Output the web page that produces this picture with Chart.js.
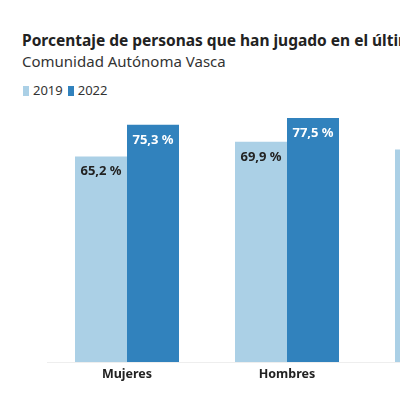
<!DOCTYPE html>
<html><head><meta charset="utf-8">
<script src="https://cdn.jsdelivr.net/npm/chart.js@4/dist/chart.umd.min.js"></script>
<style>
html,body{margin:0;padding:0;width:400px;height:400px;overflow:hidden;background:#fff;font-family:"Noto Sans",Lato,sans-serif;}
#title{position:absolute;left:22px;top:29px;font-size:15.5px;font-weight:bold;color:#222;white-space:nowrap;}
#sub{position:absolute;left:22px;top:51px;font-size:15px;color:#333;white-space:nowrap;}
#legend{position:absolute;left:23px;top:81px;font-size:13px;color:#333;white-space:nowrap;}
#legend span.sw{display:inline-block;width:6px;height:10px;vertical-align:-1px;margin-right:4px;}
#legend span.it{margin-right:5px;}
#wrap{position:absolute;left:0;top:0;width:527px;height:400px;}
</style></head><body>
<div id="title">Porcentaje de personas que han jugado en el último año</div>
<div id="sub">Comunidad Autónoma Vasca</div>
<div id="legend"></div>
<div id="wrap"><canvas id="c"></canvas></div>
<script>
const categories = ["Mujeres", "Hombres", "Total"];
const seriesNames = ["2019", "2022"];
const values2019 = [65.2, 69.9, 67.5];
const values2022 = [75.3, 77.5, 76.4];
const colors = ["#abd0e6", "#3182bd"];
const labelColors = ["#222222", "#ffffff"];

const leg = document.getElementById('legend');
seriesNames.forEach((n,i)=>{
  const s=document.createElement('span');s.className='it';
  s.innerHTML='<span class="sw" style="background:'+colors[i]+'"></span>'+n;
  leg.appendChild(s);
});

const fmt = v => v.toFixed(1).replace('.', ',') + ' %';

const labelPlugin = {
  id:'barLabels',
  afterDatasetsDraw(chart){
    const ctx=chart.ctx;
    ctx.save();
    ctx.font='bold 13px "Noto Sans", Lato, sans-serif';
    ctx.textAlign='center';ctx.textBaseline='middle';
    chart.data.datasets.forEach((ds,di)=>{
      chart.getDatasetMeta(di).data.forEach((bar,i)=>{
        ctx.fillStyle=labelColors[di];
        ctx.fillText(fmt(ds.data[i]), bar.x, bar.y+15);
      });
    });
    ctx.restore();
  }
};

new Chart(document.getElementById('c'), {
  type:'bar',
  data:{
    labels:categories,
    datasets:[
      {label:seriesNames[0], data:values2019, backgroundColor:colors[0]},
      {label:seriesNames[1], data:values2022, backgroundColor:colors[1]}
    ]
  },
  options:{
    responsive:true, maintainAspectRatio:false, animation:false,
    layout:{padding:{left:47,right:0,top:110,bottom:0}},
    datasets:{bar:{barPercentage:1, categoryPercentage:0.65}},
    plugins:{legend:{display:false}, tooltip:{enabled:false}, title:{display:false}},
    scales:{
      y:{display:false, min:0, max:80},
      x:{
        grid:{display:false, drawTicks:false},
        border:{display:true, color:'#eeeeee'},
        ticks:{color:'#222', font:{family:'"Noto Sans", Lato, sans-serif', size:12.5, weight:'bold'}, padding:5},
        afterFit(s){ s.height=38; }
      }
    }
  },
  plugins:[labelPlugin]
});
</script>
</body></html>
